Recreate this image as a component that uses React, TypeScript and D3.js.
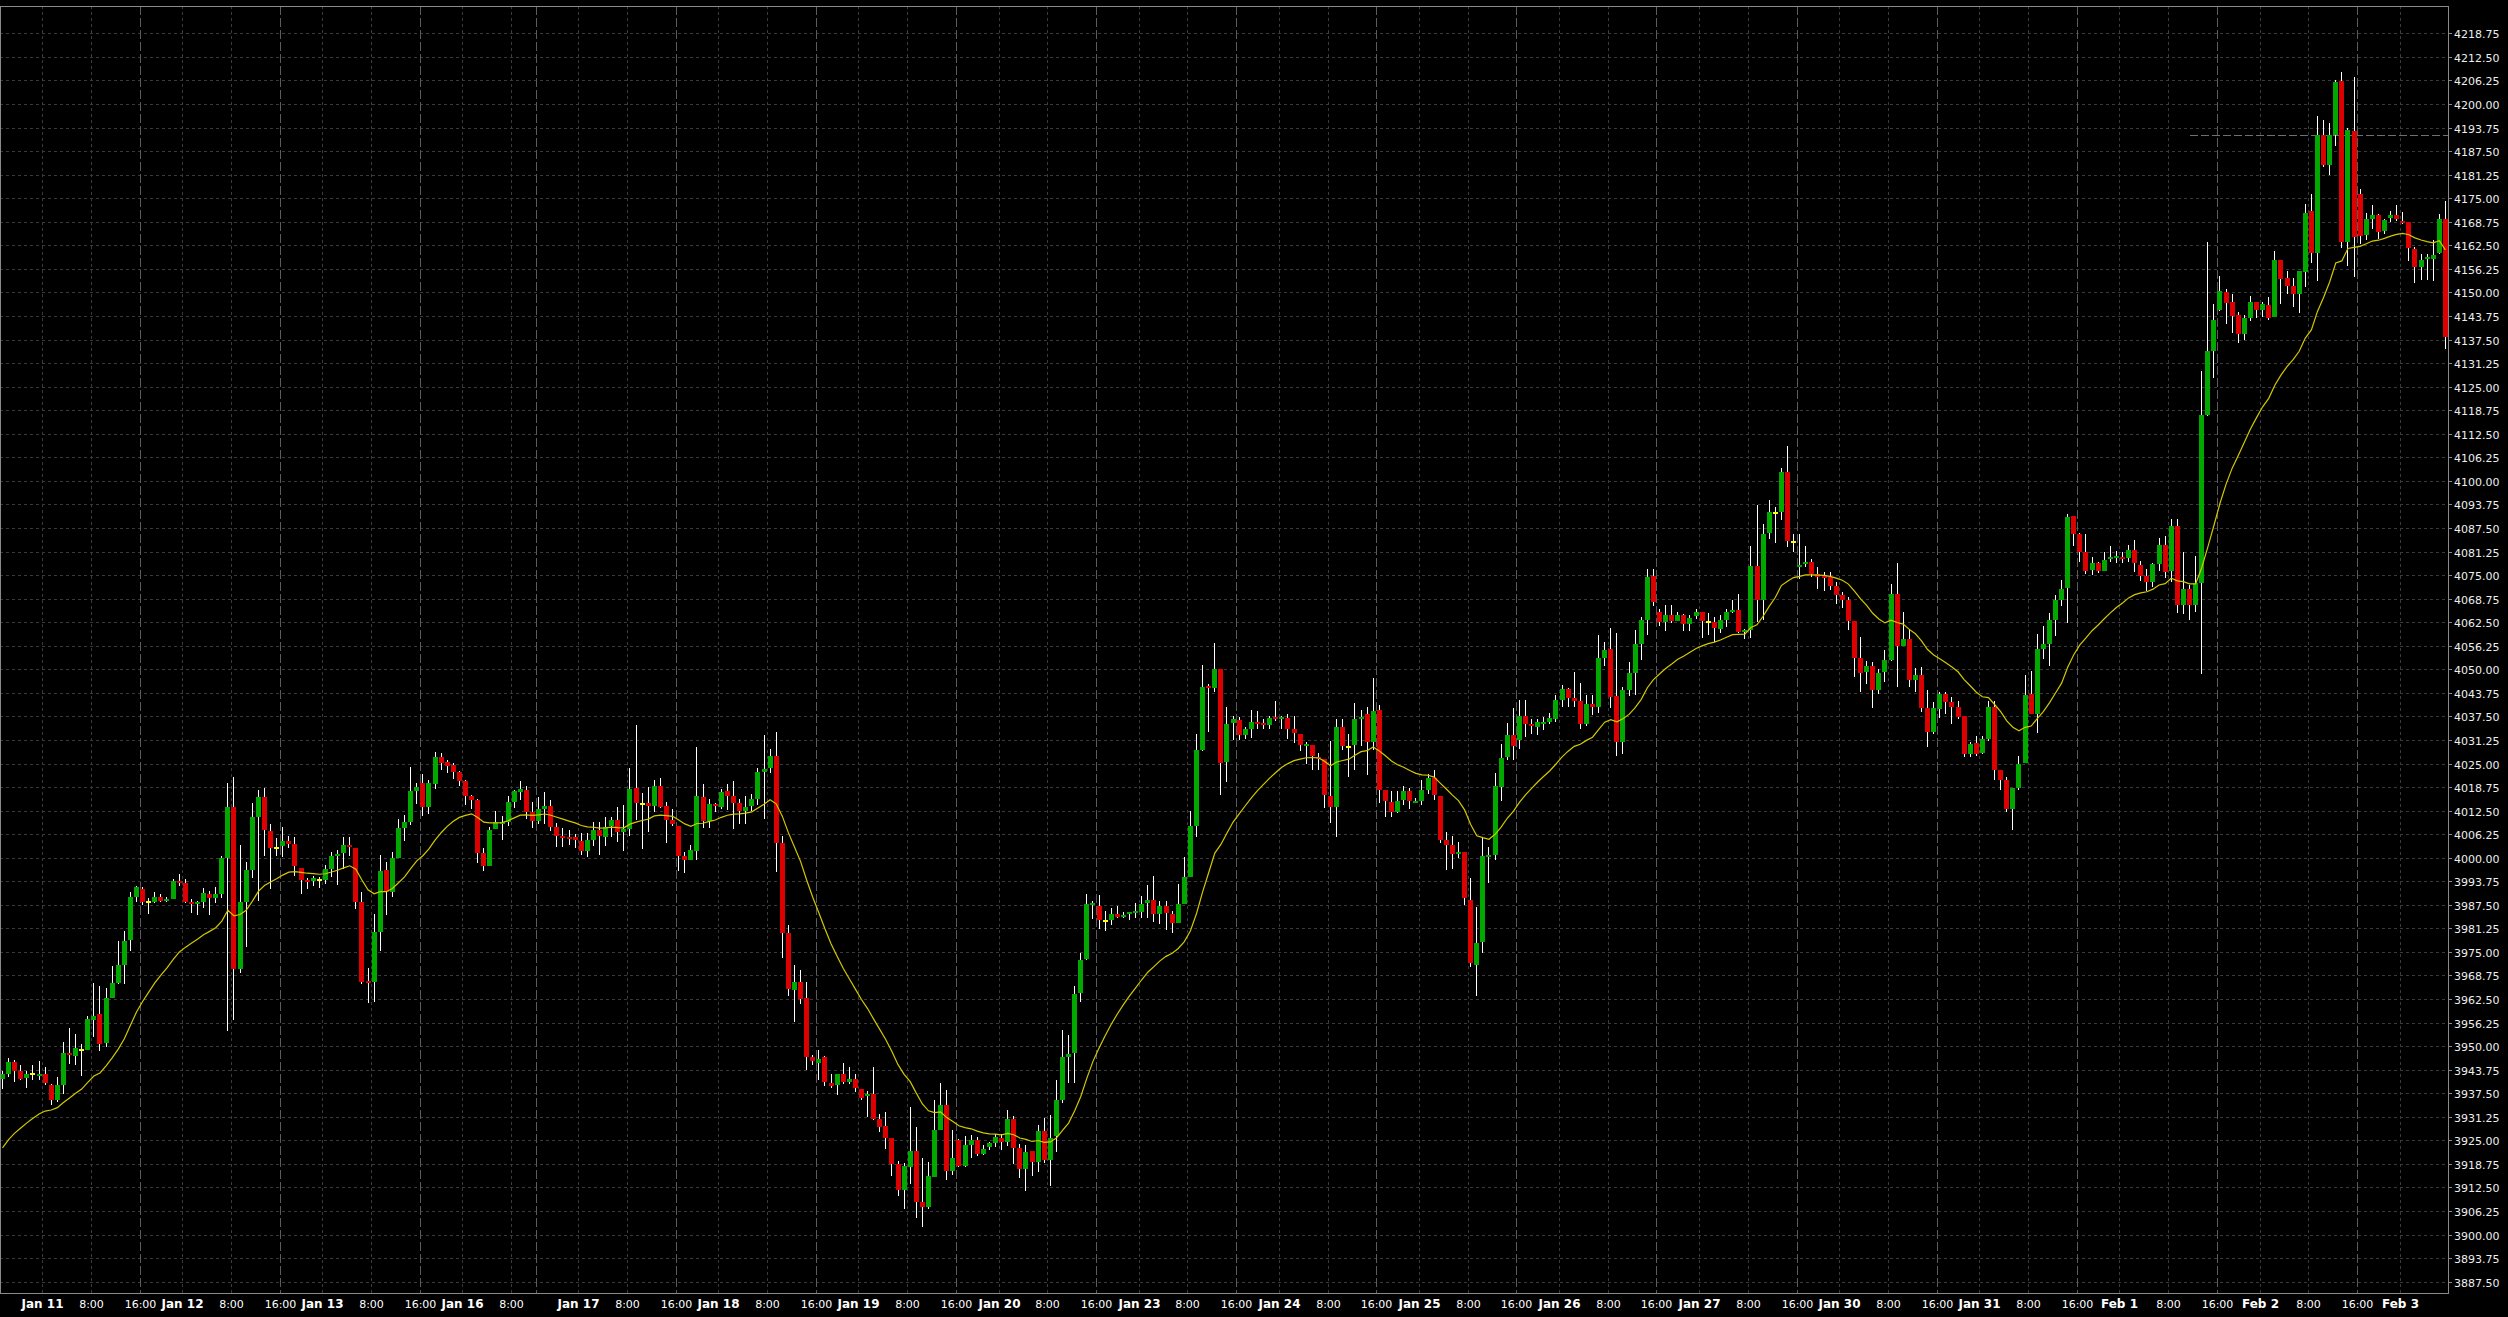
import React, { useEffect } from 'react';
import * as d3 from 'd3';

// Hourly OHLC candles (ES futures), Jan 10 17:00 -> Feb 3 07:00
const opens = [
  3941.2, 3942.5, 3945.7, 3943.3, 3941.5, 3942.6, 3942.3, 3942.7, 3939.8, 3935.6,
  3939.6, 3948.1, 3947.5, 3949.1, 3949.1, 3956.9, 3958.4, 3950.8, 3962.7, 3966.8,
  3971.6, 3978.2, 3989.7, 3991.7, 3988.2, 3988.3, 3989.7, 3988.8, 3989.1, 3993.9,
  3993.4, 3988.3, 3987.9, 3988.3, 3990.5, 3989.2, 3990.5, 3999.9, 4013.5, 3970.4,
  3988.3, 3996.8, 4010.9, 4016.2, 4007.2, 4002.5, 4003.0, 4004.5, 4003.6, 3997.4,
  3994.2, 3993.7, 3994.2, 3994.2, 3997.0, 4000.8, 4001.2, 4003.5, 4002.7, 3988.2,
  3967.4, 3966.9, 3980.2, 3996.7, 3990.8, 3999.8, 4008.0, 4009.6, 4017.8, 4019.8,
  4013.5, 4019.6, 4026.7, 4025.4, 4024.6, 4022.8, 4020.3, 4016.4, 4015.4, 4001.3,
  3997.8, 4007.6, 4009.2, 4009.5, 4014.8, 4017.5, 4018.0, 4012.1, 4009.8, 4012.9,
  4013.7, 4008.1, 4005.8, 4005.5, 4005.5, 4004.4, 4001.8, 4004.7, 4007.3, 4005.6,
  4008.5, 4010.0, 4006.8, 4007.6, 4018.6, 4014.2, 4014.4, 4013.7, 4019.0, 4013.7,
  4010.0, 4008.4, 4000.5, 3999.4, 4001.8, 4016.1, 4009.7, 4014.3, 4013.5, 4017.7,
  4016.4, 4014.4, 4012.4, 4013.7, 4015.7, 4022.7, 4023.9, 4027.0, 4004.0, 3979.9,
  3964.9, 3967.0, 3962.7, 3947.1, 3945.6, 3947.1, 3940.1, 3939.6, 3942.5, 3940.5,
  3941.2, 3938.7, 3936.8, 3937.3, 3930.6, 3928.9, 3925.7, 3918.6, 3911.9, 3918.0,
  3922.1, 3908.7, 3907.3, 3915.3, 3927.7, 3934.3, 3916.9, 3925.0, 3918.2, 3923.7,
  3925.2, 3921.5, 3923.3, 3924.3, 3925.7, 3924.6, 3930.8, 3923.0, 3917.4, 3922.1,
  3919.3, 3927.4, 3919.9, 3926.1, 3935.6, 3947.0, 3948.2, 3964.1, 3973.0, 3987.5,
  3987.1, 3983.2, 3983.4, 3985.0, 3984.3, 3985.1, 3985.4, 3985.6, 3988.0, 3988.7,
  3985.0, 3987.2, 3985.0, 3982.7, 3987.8, 3994.9, 4008.4, 4028.7, 4045.5, 4045.1,
  4050.2, 4025.5, 4035.8, 4036.5, 4032.6, 4034.1, 4036.0, 4035.7, 4035.2, 4037.3,
  4036.9, 4037.1, 4034.1, 4032.9, 4029.7, 4029.8, 4026.6, 4026.1, 4016.5, 4013.4,
  4034.6, 4029.5, 4029.9, 4036.7, 4038.1, 4030.8, 4039.2, 4018.0, 4014.8, 4012.0,
  4015.3, 4017.7, 4014.6, 4015.1, 4018.1, 4021.1, 4016.5, 4004.7, 4003.4, 4001.0,
  4001.6, 3988.9, 3971.5, 3977.7, 4000.2, 4000.7, 4018.8, 4026.6, 4032.6, 4031.2,
  4037.6, 4035.6, 4034.8, 4035.6, 4036.0, 4036.7, 4041.8, 4044.9, 4042.4, 4041.6,
  4035.6, 4040.8, 4039.9, 4052.9, 4055.3, 4042.9, 4030.8, 4044.5, 4049.1, 4056.7,
  4063.0, 4074.7, 4065.1, 4062.5, 4064.3, 4062.7, 4064.5, 4062.1, 4064.1, 4065.1,
  4062.5, 4062.5, 4060.7, 4063.1, 4065.4, 4065.8, 4059.9, 4060.3, 4077.5, 4068.5,
  4086.1, 4091.4, 4091.7, 4102.3, 4083.7, 4077.1, 4078.2, 4078.6, 4075.2, 4074.9,
  4074.4, 4072.2, 4069.8, 4068.5, 4062.8, 4053.0, 4049.2, 4050.8, 4044.6, 4049.2,
  4052.5, 4070.0, 4056.3, 4058.1, 4047.2, 4048.5, 4039.8, 4033.3, 4039.5, 4043.5,
  4041.3, 4040.0, 4037.5, 4027.6, 4030.5, 4027.8, 4031.4, 4040.1, 4023.4, 4020.7,
  4013.0, 4018.6, 4025.2, 4043.5, 4038.2, 4055.4, 4056.8, 4063.2, 4068.5, 4071.6,
  4090.6, 4085.8, 4081.2, 4076.3, 4078.1, 4076.1, 4079.2, 4079.6, 4079.8, 4079.6,
  4081.6, 4077.8, 4074.7, 4073.2, 4077.9, 4082.9, 4076.1, 4087.9, 4067.0, 4071.3,
  4067.0, 4072.9, 4117.4, 4134.4, 4145.4, 4150.1, 4147.5, 4143.9, 4138.9, 4143.3,
  4147.5, 4145.3, 4146.6, 4143.5, 4158.5, 4153.8, 4151.6, 4149.7, 4155.4, 4171.5,
  4160.5, 4191.7, 4183.9, 4191.9, 4206.0, 4163.4, 4192.8, 4176.0, 4165.2, 4169.4,
  4170.5, 4166.2, 4169.8, 4170.5, 4168.9, 4168.6, 4161.6, 4156.8, 4158.8, 4158.8,
  4160.5, 4169.6,
];

const highs = [
  3943.5, 3946.9, 3946.2, 3945.1, 3943.3, 3944.9, 3946.1, 3944.5, 3939.9, 3941.9,
  3951.2, 3954.7, 3953.1, 3950.7, 3957.9, 3966.8, 3965.9, 3965.4, 3971.3, 3978.0,
  3980.6, 3990.8, 3992.6, 3992.1, 3989.3, 3991.0, 3990.5, 3989.7, 3994.3, 3995.7,
  3994.3, 3989.1, 3988.6, 3992.0, 3991.3, 3992.1, 4000.5, 4019.7, 4021.5, 4003.4,
  3998.9, 4014.4, 4017.9, 4018.5, 4008.9, 4005.1, 4008.2, 4005.8, 4005.4, 3997.4,
  3994.7, 3995.1, 3994.9, 3998.1, 4001.4, 4002.0, 4005.4, 4005.6, 4002.7, 3991.0,
  3970.7, 3985.0, 4000.8, 3998.8, 4001.4, 4010.3, 4011.4, 4024.1, 4019.9, 4022.1,
  4020.6, 4028.0, 4027.9, 4026.0, 4025.2, 4023.1, 4020.7, 4016.7, 4015.6, 4002.7,
  4008.2, 4012.4, 4011.2, 4016.4, 4018.1, 4020.3, 4019.1, 4014.8, 4016.1, 4017.4,
  4015.3, 4009.2, 4007.9, 4007.3, 4006.2, 4006.6, 4006.6, 4009.4, 4009.4, 4010.8,
  4010.8, 4013.5, 4013.9, 4023.9, 4035.2, 4017.1, 4018.8, 4020.5, 4021.2, 4014.8,
  4012.8, 4008.4, 4001.4, 4003.4, 4029.4, 4019.5, 4015.5, 4014.5, 4018.3, 4019.5,
  4020.3, 4015.5, 4016.3, 4016.8, 4023.9, 4032.6, 4028.9, 4033.4, 4005.8, 3982.1,
  3971.5, 3970.3, 3966.9, 3947.7, 3949.0, 3947.3, 3942.5, 3942.5, 3945.4, 3944.6,
  3942.6, 3938.7, 3938.1, 3944.6, 3932.1, 3932.5, 3925.7, 3919.5, 3919.1, 3933.9,
  3928.6, 3920.2, 3919.3, 3935.8, 3940.3, 3938.3, 3927.7, 3925.4, 3926.1, 3926.4,
  3925.9, 3923.7, 3924.6, 3926.8, 3926.8, 3933.0, 3931.4, 3924.1, 3923.7, 3922.1,
  3929.1, 3930.9, 3931.8, 3941.0, 3954.2, 3952.9, 3965.9, 3974.7, 3990.4, 3988.6,
  3990.0, 3985.9, 3986.7, 3987.3, 3985.6, 3985.6, 3988.0, 3989.8, 3992.7, 3995.1,
  3988.4, 3988.4, 3985.9, 3993.0, 4000.1, 4012.5, 4032.8, 4051.1, 4046.0, 4056.9,
  4050.2, 4039.9, 4037.7, 4037.3, 4034.8, 4039.2, 4038.8, 4036.7, 4037.6, 4041.7,
  4037.7, 4038.1, 4037.7, 4032.9, 4030.8, 4029.8, 4027.7, 4026.1, 4031.0, 4036.9,
  4036.7, 4032.8, 4041.1, 4039.1, 4039.9, 4047.8, 4040.5, 4018.0, 4017.8, 4017.8,
  4018.9, 4018.6, 4015.8, 4020.5, 4022.2, 4023.3, 4016.5, 4006.9, 4005.7, 4004.3,
  4001.6, 3994.5, 3986.8, 4005.6, 4002.9, 4022.4, 4030.3, 4035.7, 4039.6, 4041.9,
  4041.9, 4036.9, 4036.9, 4037.4, 4038.3, 4043.1, 4045.9, 4045.1, 4049.3, 4046.4,
  4043.1, 4043.1, 4059.1, 4057.3, 4061.0, 4059.5, 4045.4, 4052.0, 4060.5, 4064.0,
  4076.5, 4076.7, 4066.0, 4067.0, 4067.0, 4065.1, 4064.8, 4064.3, 4066.1, 4065.1,
  4064.9, 4063.8, 4064.3, 4066.0, 4068.4, 4070.0, 4060.8, 4082.6, 4093.7, 4088.6,
  4095.0, 4093.0, 4103.4, 4109.2, 4085.9, 4085.9, 4082.6, 4079.3, 4077.1, 4075.8,
  4075.8, 4073.1, 4070.5, 4069.1, 4062.8, 4058.5, 4052.3, 4051.9, 4050.1, 4055.0,
  4072.5, 4078.2, 4065.3, 4060.7, 4050.4, 4050.6, 4044.4, 4041.3, 4043.9, 4043.9,
  4042.6, 4041.7, 4037.5, 4030.7, 4032.4, 4032.4, 4041.6, 4041.6, 4023.4, 4021.4,
  4018.6, 4027.1, 4048.5, 4049.5, 4059.4, 4061.4, 4064.9, 4069.6, 4073.8, 4091.3,
  4090.8, 4086.2, 4085.8, 4079.7, 4078.6, 4081.2, 4082.7, 4081.4, 4081.2, 4082.9,
  4084.4, 4078.8, 4076.7, 4078.3, 4084.9, 4085.3, 4089.8, 4089.8, 4081.2, 4072.3,
  4080.0, 4129.1, 4163.4, 4147.0, 4154.3, 4151.0, 4149.7, 4144.8, 4143.9, 4149.0,
  4147.5, 4147.5, 4148.8, 4161.0, 4158.5, 4155.8, 4153.8, 4155.8, 4173.4, 4176.2,
  4196.7, 4195.7, 4194.9, 4206.3, 4208.5, 4193.7, 4207.2, 4177.5, 4171.1, 4173.1,
  4170.9, 4169.4, 4171.7, 4173.1, 4171.4, 4168.6, 4162.0, 4160.3, 4160.3, 4163.8,
  4170.9, 4174.3,
];

const lows = [
  3938.6, 3941.8, 3940.5, 3941.0, 3939.0, 3940.9, 3940.9, 3939.7, 3934.3, 3935.1,
  3937.2, 3945.2, 3944.9, 3942.0, 3948.9, 3952.4, 3948.7, 3949.7, 3962.7, 3966.5,
  3966.5, 3975.3, 3988.2, 3987.5, 3985.0, 3987.9, 3988.2, 3988.2, 3989.1, 3992.4,
  3987.9, 3985.2, 3984.8, 3986.7, 3984.8, 3987.9, 3989.2, 3954.0, 3957.0, 3969.3,
  3976.2, 3994.5, 3988.6, 4000.5, 3991.6, 4000.5, 4000.3, 4002.5, 3995.2, 3990.5,
  3991.6, 3992.5, 3992.0, 3993.1, 3994.8, 3992.8, 3997.0, 4000.5, 3986.4, 3966.5,
  3961.5, 3961.8, 3975.3, 3984.9, 3989.5, 3999.8, 4004.5, 4008.8, 4014.3, 4011.1,
  4011.7, 4018.3, 4023.3, 4022.5, 4021.0, 4019.0, 4014.0, 4013.0, 3998.7, 3996.5,
  3997.8, 4007.6, 4004.7, 4008.5, 4013.3, 4015.3, 4010.2, 4008.0, 4008.9, 4009.0,
  4007.0, 4002.9, 4002.9, 4003.5, 4002.5, 4000.7, 4000.2, 4003.2, 4000.7, 4003.1,
  4005.6, 4004.2, 4001.8, 4005.7, 4010.0, 4002.4, 4006.8, 4012.0, 4013.3, 4003.8,
  4008.4, 3996.5, 3996.0, 3999.4, 3999.4, 4008.0, 4007.9, 4012.0, 4012.8, 4012.6,
  4007.6, 4009.0, 4008.9, 4012.4, 4014.0, 4010.2, 4022.5, 3996.3, 3973.3, 3963.3,
  3956.3, 3961.3, 3943.7, 3945.0, 3941.0, 3939.5, 3939.0, 3937.0, 3940.0, 3940.0,
  3937.8, 3935.7, 3931.3, 3930.4, 3927.3, 3922.6, 3915.6, 3910.2, 3906.8, 3913.5,
  3904.5, 3901.9, 3906.9, 3915.3, 3927.7, 3914.6, 3915.8, 3918.0, 3918.0, 3920.4,
  3920.9, 3921.1, 3922.4, 3923.3, 3922.4, 3923.6, 3918.7, 3914.9, 3911.6, 3915.6,
  3916.6, 3919.0, 3912.9, 3921.8, 3934.9, 3940.1, 3940.2, 3961.7, 3972.8, 3983.8,
  3981.2, 3980.5, 3982.2, 3983.9, 3984.0, 3983.4, 3984.1, 3984.1, 3984.1, 3983.0,
  3982.4, 3980.7, 3980.1, 3982.7, 3987.8, 3994.9, 4005.6, 4028.4, 4033.4, 4044.0,
  4016.6, 4020.2, 4031.3, 4031.3, 4031.4, 4031.7, 4034.1, 4034.1, 4034.1, 4036.4,
  4034.1, 4031.4, 4030.4, 4028.2, 4024.9, 4023.2, 4023.2, 4013.1, 4009.1, 4005.4,
  4028.5, 4021.5, 4023.3, 4029.7, 4022.0, 4028.6, 4014.4, 4010.9, 4010.9, 4011.9,
  4014.0, 4013.0, 4014.4, 4014.0, 4017.0, 4015.3, 4003.8, 3996.7, 3996.9, 4000.0,
  3987.5, 3970.9, 3963.2, 3974.8, 3993.2, 3999.4, 4015.1, 4026.0, 4025.9, 4028.9,
  4032.0, 4032.8, 4032.6, 4034.0, 4035.5, 4036.0, 4040.0, 4039.9, 4039.9, 4034.1,
  4034.9, 4038.0, 4038.3, 4051.0, 4039.6, 4027.0, 4027.5, 4043.0, 4043.2, 4052.5,
  4059.0, 4066.7, 4061.6, 4060.2, 4062.3, 4062.7, 4060.2, 4060.2, 4063.4, 4058.4,
  4059.0, 4057.2, 4059.6, 4061.3, 4064.9, 4059.5, 4058.1, 4058.4, 4062.5, 4063.0,
  4084.6, 4083.5, 4089.7, 4082.4, 4081.1, 4074.0, 4077.1, 4074.4, 4071.4, 4070.9,
  4071.0, 4067.2, 4066.3, 4060.3, 4047.9, 4043.9, 4046.2, 4039.8, 4043.5, 4046.6,
  4052.3, 4045.3, 4056.3, 4045.3, 4043.9, 4038.6, 4029.4, 4032.9, 4037.1, 4038.2,
  4035.5, 4036.9, 4026.7, 4026.7, 4027.1, 4027.6, 4031.0, 4020.5, 4017.9, 4012.1,
  4007.4, 4018.0, 4025.2, 4038.2, 4033.1, 4052.8, 4050.8, 4058.8, 4066.9, 4062.3,
  4082.7, 4078.5, 4075.2, 4075.1, 4075.6, 4076.1, 4078.6, 4078.1, 4078.3, 4078.6,
  4075.9, 4073.5, 4070.8, 4071.9, 4076.2, 4074.1, 4073.2, 4065.0, 4064.8, 4063.0,
  4065.3, 4048.7, 4117.1, 4127.4, 4145.2, 4141.7, 4139.2, 4136.6, 4137.5, 4142.4,
  4143.3, 4143.5, 4142.8, 4143.4, 4147.0, 4149.7, 4146.0, 4144.5, 4151.4, 4157.8,
  4153.0, 4183.3, 4181.1, 4188.9, 4161.9, 4156.9, 4154.1, 4162.9, 4163.9, 4166.9,
  4164.2, 4165.5, 4168.8, 4168.9, 4168.2, 4158.4, 4152.5, 4153.4, 4153.4, 4153.1,
  4160.3, 4135.1,
];

const closes = [
  3942.5, 3945.9, 3943.4, 3941.2, 3942.6, 3942.6, 3942.7, 3940.1, 3935.7, 3939.6,
  3948.1, 3947.6, 3949.6, 3949.1, 3957.1, 3958.1, 3950.6, 3962.7, 3966.8, 3971.6,
  3978.0, 3989.7, 3992.3, 3988.3, 3988.2, 3989.7, 3988.6, 3989.1, 3993.9, 3993.5,
  3988.3, 3987.9, 3988.3, 3990.7, 3989.2, 3990.5, 4000.0, 4013.4, 3970.4, 3988.3,
  3996.8, 4010.9, 4016.2, 4007.4, 4002.7, 4002.5, 4004.5, 4003.6, 3997.7, 3994.2,
  3993.7, 3994.6, 3994.2, 3997.0, 4000.5, 4001.1, 4003.5, 4003.0, 3988.2, 3967.1,
  3966.7, 3980.2, 3996.6, 3990.8, 3999.8, 4008.0, 4009.6, 4017.8, 4018.8, 4013.5,
  4019.8, 4026.7, 4025.2, 4024.3, 4022.8, 4020.3, 4016.4, 4015.4, 4001.3, 3997.8,
  4007.4, 4009.5, 4009.6, 4014.8, 4017.7, 4018.2, 4012.0, 4009.8, 4012.9, 4013.7,
  4008.2, 4005.8, 4005.2, 4005.0, 4004.7, 4001.8, 4004.7, 4007.3, 4005.8, 4008.2,
  4010.0, 4006.8, 4007.5, 4018.2, 4014.4, 4014.2, 4013.7, 4019.0, 4013.5, 4010.0,
  4009.0, 4000.5, 3999.4, 4002.0, 4016.4, 4009.7, 4014.3, 4013.7, 4017.4, 4016.4,
  4014.6, 4012.4, 4013.4, 4015.5, 4022.7, 4023.6, 4027.0, 4004.0, 3979.9, 3965.1,
  3966.9, 3962.6, 3947.1, 3946.0, 3946.5, 3940.5, 3939.5, 3942.5, 3940.5, 3941.2,
  3938.9, 3936.3, 3937.2, 3930.6, 3928.6, 3925.7, 3918.8, 3911.9, 3918.1, 3922.1,
  3908.7, 3907.3, 3915.5, 3927.7, 3934.3, 3916.9, 3920.2, 3918.2, 3923.7, 3925.0,
  3921.5, 3922.8, 3924.2, 3925.9, 3924.6, 3930.8, 3923.0, 3917.4, 3921.8, 3919.3,
  3927.4, 3919.9, 3925.7, 3935.6, 3947.0, 3947.8, 3963.8, 3972.8, 3987.8, 3988.1,
  3983.4, 3983.2, 3985.0, 3984.3, 3984.7, 3985.6, 3985.8, 3987.8, 3988.7, 3985.0,
  3987.2, 3985.2, 3982.7, 3987.8, 3994.9, 4008.3, 4028.6, 4045.2, 4045.1, 4050.2,
  4025.2, 4035.6, 4036.9, 4032.5, 4034.1, 4036.0, 4035.6, 4035.2, 4037.0, 4036.9,
  4037.3, 4034.1, 4033.2, 4029.9, 4030.1, 4027.0, 4026.1, 4016.6, 4013.4, 4034.6,
  4029.7, 4029.5, 4036.9, 4037.4, 4030.8, 4038.9, 4018.1, 4015.1, 4012.2, 4015.1,
  4017.8, 4015.1, 4015.1, 4018.1, 4021.1, 4016.6, 4004.7, 4003.4, 4001.0, 4001.6,
  3989.4, 3972.0, 3977.3, 4000.5, 4000.7, 4018.9, 4026.4, 4032.6, 4029.6, 4037.6,
  4035.5, 4034.9, 4036.0, 4036.1, 4037.0, 4041.8, 4044.9, 4042.5, 4041.6, 4035.6,
  4040.8, 4039.9, 4052.9, 4055.1, 4042.7, 4030.8, 4044.5, 4049.1, 4056.7, 4063.0,
  4074.5, 4067.8, 4062.6, 4064.3, 4062.7, 4064.5, 4062.1, 4063.7, 4065.1, 4062.7,
  4062.5, 4061.0, 4063.1, 4065.3, 4065.8, 4059.9, 4060.3, 4077.5, 4068.5, 4085.8,
  4091.7, 4091.4, 4102.3, 4084.0, 4083.7, 4077.8, 4078.6, 4075.2, 4074.4, 4074.3,
  4072.2, 4069.8, 4068.3, 4062.8, 4053.0, 4049.0, 4051.0, 4044.6, 4049.0, 4052.5,
  4070.0, 4056.3, 4058.1, 4047.2, 4048.5, 4039.8, 4033.3, 4039.8, 4043.5, 4041.3,
  4040.1, 4037.3, 4027.6, 4030.1, 4027.6, 4031.4, 4040.1, 4023.4, 4020.7, 4013.0,
  4018.6, 4024.8, 4043.3, 4038.2, 4055.4, 4056.8, 4063.0, 4068.5, 4071.2, 4090.4,
  4085.8, 4081.2, 4076.0, 4078.3, 4076.1, 4079.1, 4079.7, 4080.0, 4079.2, 4081.6,
  4078.1, 4074.8, 4073.2, 4077.9, 4082.9, 4075.9, 4087.9, 4067.0, 4071.3, 4067.0,
  4072.8, 4117.4, 4134.4, 4142.6, 4150.3, 4147.2, 4143.7, 4138.9, 4143.3, 4147.5,
  4145.3, 4146.9, 4143.2, 4158.5, 4153.5, 4151.6, 4149.7, 4155.6, 4171.2, 4160.5,
  4191.7, 4183.7, 4191.9, 4205.8, 4163.4, 4193.0, 4164.7, 4164.9, 4169.4, 4170.5,
  4166.0, 4169.1, 4170.5, 4169.6, 4168.3, 4161.8, 4156.8, 4158.5, 4159.3, 4160.0,
  4169.4, 4138.2,
];

// Exponential moving average (period 20) on closes; its value at the first bar
const emaPeriod = 20;
const emaStart = 3923.0;

// Trading sessions (each starts 17:00 the evening before), bar counts per session
const sessionDays = [
  'Jan 11', 'Jan 12', 'Jan 13', 'Jan 16', 'Jan 17', 'Jan 18', 'Jan 19', 'Jan 20', 'Jan 23',
  'Jan 24', 'Jan 25', 'Jan 26', 'Jan 27', 'Jan 30', 'Jan 31', 'Feb 1', 'Feb 2', 'Feb 3',
];
const sessionBars = [23, 23, 23, 19, 23, 23, 23, 23, 23, 23, 23, 23, 23, 23, 23, 23, 23, 15];

// Price axis
const priceTickStart = 3887.5;
const priceTickEnd = 4218.75;
const priceTickStep = 6.25;
const priceDomain = [3884.5, 4226.0];
// Dashed horizontal level line
const levelPrice = 4191.7;
const levelFromBar = 359;

const FONT = '"DejaVu Sans", "Liberation Sans", sans-serif';

export default function App() {
  useEffect(() => {
    document.body.style.margin = '0';
    document.body.style.background = '#000';
  }, []);

  const W = 2508;
  const H = 1317;
  const plotR = 2448;
  const plotT = 6;
  const plotB = 1293;
  const n = closes.length;

  const x = d3.scaleLinear().domain([0, n - 1]).range([2.5, 2445.4]);
  const y = d3.scaleLinear().domain(priceDomain).range([plotB, plotT]);
  const half = (x(1) - x(0)) / 2;

  // EMA
  const k = 2 / (emaPeriod + 1);
  const ema: number[] = [];
  closes.forEach((c, i) => {
    ema.push(i === 0 ? emaStart : ema[i - 1] + k * (c - ema[i - 1]));
  });
  const emaPath = d3
    .line<number>()
    .x((_, i) => x(i))
    .y((v) => y(v))(ema) as string;

  // time labels & session lines
  const labels: { i: number; text: string; bold: boolean }[] = [];
  const sessionStarts: number[] = [];
  let s = 0;
  sessionBars.forEach((len, kk) => {
    sessionStarts.push(s);
    labels.push({ i: s + 7, text: sessionDays[kk], bold: true });
    if (s + 15 < s + len) labels.push({ i: s + 15, text: '8:00', bold: false });
    if (len === 23 && s + len < n) labels.push({ i: s + len, text: '16:00', bold: false });
    s += len;
  });
  const gx = (i: number) => Math.round(x(i) - half) + 0.5;

  const priceTicks = d3.range(priceTickStart, priceTickEnd + 0.001, priceTickStep);

  const green = '#00a800';
  const red = '#dc0000';

  return (
    <svg
      width={W}
      height={H}
      style={{ position: 'absolute', left: 0, top: 0, display: 'block', background: '#000' }}
    >
      <rect x={0} y={0} width={W} height={H} fill="#000" />

      {/* horizontal grid */}
      <g shapeRendering="crispEdges">
        {priceTicks.map((p) => {
          const yy = Math.round(y(p)) + 0.5;
          return (
            <line key={'h' + p} x1={0} x2={plotR} y1={yy} y2={yy} stroke="#3a3a3a" strokeDasharray="3,3" />
          );
        })}
        {/* vertical grid at labels (dotted) */}
        {labels
          .filter((l) => !sessionStarts.includes(l.i))
          .map((l) => (
            <line key={'v' + l.i} x1={gx(l.i)} x2={gx(l.i)} y1={plotT} y2={plotB} stroke="#3a3a3a" strokeDasharray="3,3" />
          ))}
        {/* session start lines (long dashes) */}
        {sessionStarts
          .filter((i) => i > 0)
          .map((i) => (
            <line key={'s' + i} x1={gx(i)} x2={gx(i)} y1={plotT} y2={plotB} stroke="#5c5c5c" strokeDasharray="9,3" />
          ))}
        {/* level line */}
        <line
          x1={Math.round(x(levelFromBar))}
          x2={plotR}
          y1={Math.round(y(levelPrice)) + 0.5}
          y2={Math.round(y(levelPrice)) + 0.5}
          stroke="#707070"
          strokeDasharray="8,3"
        />
      </g>

      {/* candles */}
      <g shapeRendering="crispEdges">
        {closes.map((c, i) => {
          const o = opens[i];
          const hi = highs[i];
          const lo = lows[i];
          const bx = Math.round(x(i) - 2.5);
          const yh = Math.round(y(hi));
          const yl = Math.round(y(lo));
          let body;
          if (o === c) {
            body = <rect x={bx} y={Math.round(y(o)) - 1} width={5} height={2} fill="#ffff00" />;
          } else {
            const yt = Math.round(y(Math.max(o, c)));
            const yb = Math.round(y(Math.min(o, c)));
            body = <rect x={bx} y={yt} width={5} height={Math.max(2, yb - yt)} fill={c > o ? green : red} />;
          }
          return (
            <g key={'c' + i}>
              <rect x={bx + 2} y={yh} width={1} height={Math.max(1, yl - yh)} fill="#ffffff" />
              {body}
            </g>
          );
        })}
      </g>

      {/* EMA */}
      <path d={emaPath} fill="none" stroke="#d2c800" strokeWidth={1.2} />

      {/* frame */}
      <rect x={0.5} y={plotT + 0.5} width={plotR} height={plotB - plotT} fill="none" stroke="#8a8a8a" shapeRendering="crispEdges" />

      {/* right axis */}
      <g>
        {priceTicks.map((p) => {
          const yy = Math.round(y(p)) + 0.5;
          return (
            <g key={'t' + p}>
              <line x1={plotR} x2={plotR + 4} y1={yy} y2={yy} stroke="#8a8a8a" shapeRendering="crispEdges" />
              <text x={plotR + 6} y={yy + 4} fill="#eeeeee" fontFamily={FONT} fontSize={11}>
                {p.toFixed(2)}
              </text>
            </g>
          );
        })}
      </g>

      {/* bottom axis */}
      <g>
        {labels.map((l) => (
          <text
            key={'l' + l.i}
            x={gx(l.i)}
            y={1308}
            textAnchor="middle"
            fill="#ffffff"
            fontFamily={FONT}
            fontSize={l.bold ? 12 : 11}
            fontWeight={l.bold ? 'bold' : 'normal'}
          >
            {l.text}
          </text>
        ))}
      </g>
    </svg>
  );
}
